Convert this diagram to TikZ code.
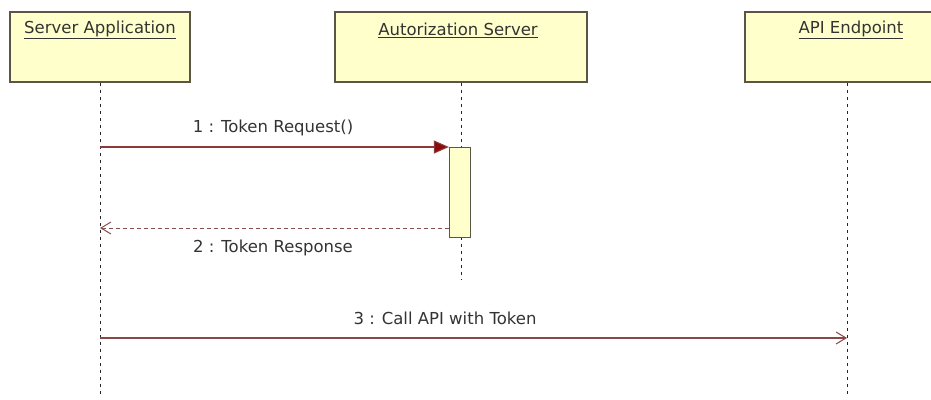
\documentclass[tikz,border=0pt]{standalone}
\usepackage{fontspec}
\setmainfont{DejaVu Sans}
\usetikzlibrary{arrows.meta}
\definecolor{boxfill}{HTML}{FFFFCC}
\definecolor{boxline}{HTML}{5C5444}
\definecolor{msgline}{HTML}{8A3A3A}
\definecolor{headred}{HTML}{8B0A0A}
\definecolor{txt}{HTML}{333333}
\newcommand{\ulabel}[1]{\underline{#1}}
\tikzset{
  actor/.style={draw=boxline, line width=1.6pt, fill=boxfill, minimum height=70pt, inner sep=0pt},
  actorlabel/.style={text=txt, font=\fontsize{16.5}{18}\selectfont, inner sep=0pt},
  lifeline/.style={draw=black!85, line width=1pt, dash pattern=on 3pt off 4pt},
  activation/.style={draw=boxline, line width=1.3pt, fill=boxfill, minimum width=21pt, minimum height=90pt, inner sep=0pt},
  call/.style={draw=msgline, line width=1.1pt, -{Triangle[length=15pt,width=13pt,fill=headred]}},
  reply/.style={draw=msgline!70!gray, line width=1pt, dash pattern=on 4pt off 3pt, -{Straight Barb[length=10pt,width=12pt,line width=1pt]}},
  async/.style={draw=msgline!80!gray, line width=1.3pt, -{Straight Barb[length=10pt,width=12pt,line width=1pt]}},
  msglabel/.style={text=txt, font=\fontsize{16.5}{18}\selectfont, inner sep=0pt}
}
\begin{document}
\begin{tikzpicture}[x=1pt,y=-1pt]
\useasboundingbox (0,0) rectangle (931,399);
\begin{scope}
\clip (0,0) rectangle (931,399);
% participants
\node[actor, minimum width=180pt] (sa) at (100,47) {};
\node[actor, minimum width=252pt] (as) at (461,47) {};
\node[actor, minimum width=204pt] (ae) at (847,47) {};
\node[actorlabel] (saT) at (100,30) {\ulabel{Server Application}};
\node[actorlabel] (asT) at (458,30) {\ulabel{Autorization Server}};
\node[actorlabel] (aeT) at (851,30) {\ulabel{API Endpoint}};
% lifeline ends
\coordinate (saEnd) at (100,396);
\coordinate (asEnd) at (461,279);
\coordinate (aeEnd) at (847,396);
\draw[lifeline] (sa.south) -- (saEnd);
\draw[lifeline] (as.south) -- (asEnd);
\draw[lifeline] (ae.south) -- (aeEnd);
% activation bar on the authorization server
\node[activation, anchor=north] (act) at (460,147) {};
% message anchor points on the lifelines
\coordinate (m1s) at (100,147);
\coordinate (m2e) at (100,228);
\coordinate (m2s) at (act.west |- m2e);
\coordinate (m3s) at (100,338);
\coordinate (m3e) at (847,338);
\draw[call] (m1s) -- (act.north west);
\draw[reply] (m2s) -- (m2e);
\draw[async] (m3s) -- (m3e);
\node[msglabel] (l1) at (273,128) {1 : Token Request()};
\node[msglabel] (l2) at (273,248) {2 : Token Response};
\node[msglabel] (l3) at (445,318) {3 : Call API with Token};
\end{scope}
\end{tikzpicture}
\end{document}
